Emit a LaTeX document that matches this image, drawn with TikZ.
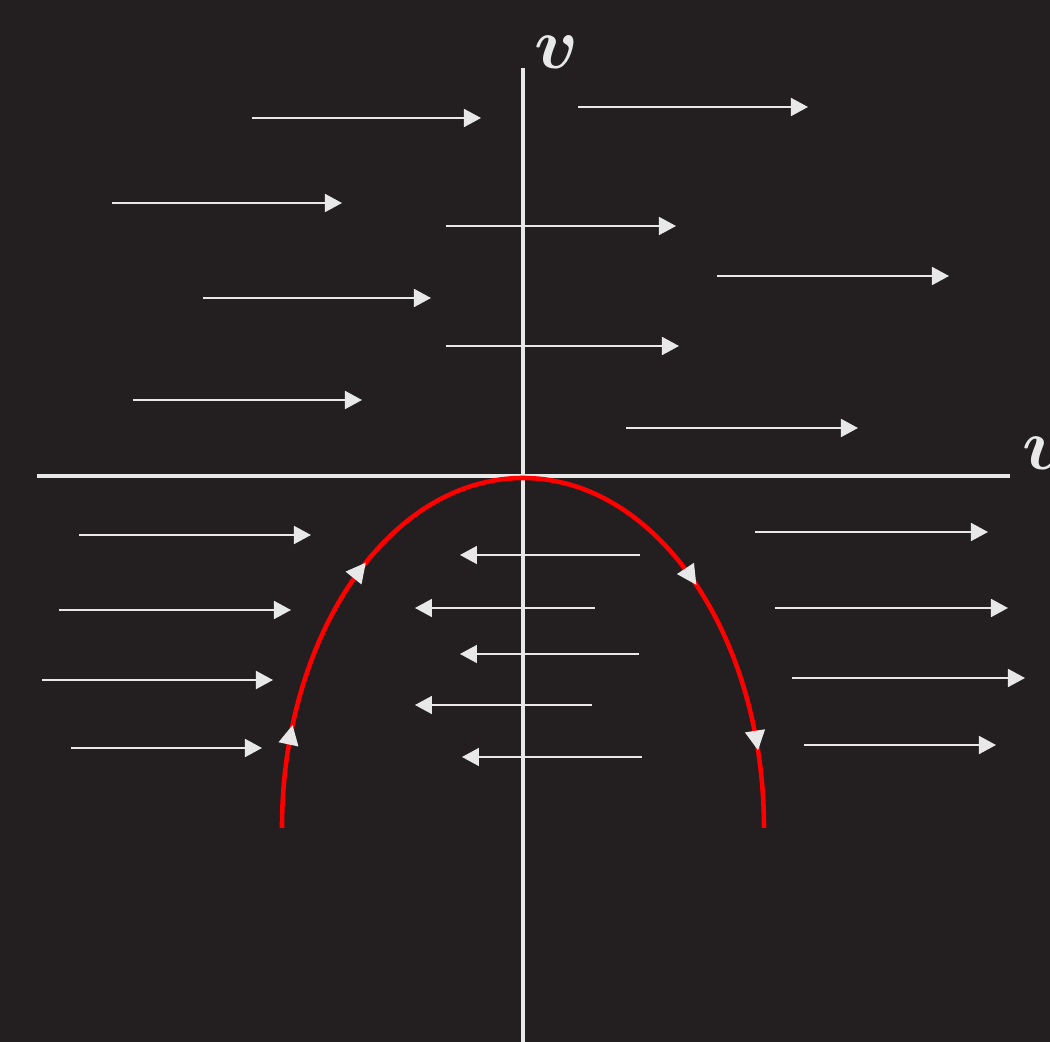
\documentclass[tikz,border=0pt]{standalone}
\usepackage{amsmath,bm}
\usetikzlibrary{arrows.meta,decorations.markings}
\definecolor{bgdark}{HTML}{231F20}
\definecolor{fieldgray}{HTML}{E8E8E8}
\definecolor{flowred}{HTML}{FF0000}
\tikzset{
  field/.style={fieldgray, line width=0.5pt, -{Triangle[length=1.7mm,width=1.8mm]}},
  axisline/.style={fieldgray, line width=0.9pt},
  orbittip/.style={fieldgray},
}
\begin{document}
\begin{tikzpicture}
    \fill[bgdark] (-5.23,-5.66) rectangle (5.27,4.76);
    \useasboundingbox (-5.23,-5.66) rectangle (5.27,4.76);

    \draw[axisline] (-4.86,0) -- (4.87,0);
    \draw[axisline] (0,-5.66) -- (0,4.08);
    \node[fieldgray, font=\fontsize{20}{24}\selectfont] (vlabel) at (0.34,4.24) {$\bm{v}$};
    \node[fieldgray, font=\fontsize{20}{24}\selectfont] (ulabel) at (5.24,0.23) {$\bm{u}$};

    \foreach \a/\b/\y in {-2.71/-0.42/3.58, 0.55/2.85/3.69, -4.11/-1.81/2.73, -0.77/1.53/2.50,
        1.94/4.26/2.00, -3.20/-0.92/1.78, -0.77/1.56/1.30, -3.90/-1.61/0.76, 1.03/3.35/0.48,
        -4.44/-2.12/-0.59, 2.32/4.65/-0.56, -4.64/-2.32/-1.34, 2.52/4.85/-1.32,
        -4.81/-2.50/-2.04, 2.69/5.02/-2.02, -4.52/-2.61/-2.72, 2.81/4.73/-2.69,
        1.17/-0.63/-0.79, 0.72/-1.08/-1.32, 1.16/-0.63/-1.78, 0.69/-1.08/-2.29, 1.19/-0.61/-2.81}
        \draw[field] (\a,\y) -- (\b,\y);

    \draw[flowred, line width=1.3pt, postaction=decorate, decoration={markings,
        mark=at position 0.111 with {\arrow[orbittip]{Triangle[length=2mm,width=1.9mm]}},
        mark=at position 0.303 with {\arrow[orbittip]{Triangle[length=2mm,width=1.9mm]}},
        mark=at position 0.727 with {\arrow[orbittip]{Triangle[length=2mm,width=1.9mm]}},
        mark=at position 0.917 with {\arrow[orbittip]{Triangle[length=2mm,width=1.9mm]}}}]
        (-2.41,-3.52) arc[start angle=180, end angle=0, x radius=2.41, y radius=3.50];
\end{tikzpicture}
\end{document}
